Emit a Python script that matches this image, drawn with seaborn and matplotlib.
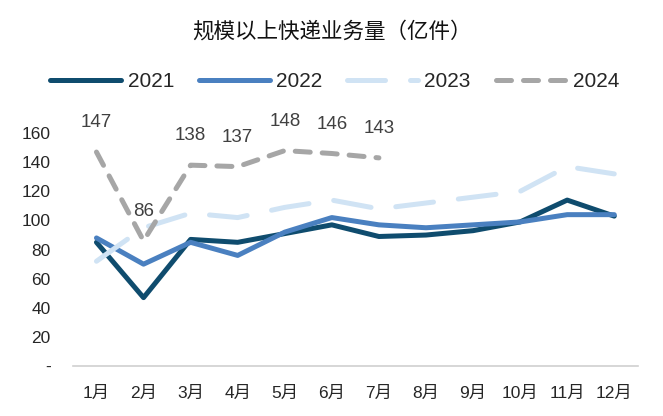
import numpy as np
import pandas as pd
import matplotlib
matplotlib.use("Agg")
import matplotlib.pyplot as plt
import seaborn as sns
from matplotlib.ticker import FixedLocator

months = ["1月", "2月", "3月", "4月", "5月", "6月", "7月", "8月", "9月", "10月", "11月", "12月"]
v2021 = [85, 47, 87, 85, 91, 97, 89, 90, 93, 99, 114, 103]
v2022 = [88, 70, 85, 76, 92, 102, 97, 95, 97, 99, 104, 104]
v2023 = [72, 95, 105, 102, 109, 114, 108, 112, 116, 120, 137, 132]
v2024 = [147, 86, 138, 137, 148, 146, 143]
years = ["2021", "2022", "2023", "2024"]

sns.set_style("white")
plt.rcParams["font.family"] = ["Liberation Sans", "Noto Sans CJK SC", "DejaVu Sans"]

colors = ["#0F4C6E", "#4A80C0", "#D0E3F4", "#A6A6A6"]
dashes = [None, None, (7.6, 5), (3, 2.4)]

fig = plt.figure(figsize=(6.63, 4.16), dpi=100)
ax = fig.add_axes([0.110, 0.120, 0.852, 0.560])

series = [v2021, v2022, v2023, v2024]
for name, vals, col, ds in zip(years, series, colors, dashes):
    df = pd.DataFrame({"x": np.arange(len(vals)), "y": vals})
    sns.lineplot(data=df, x="x", y="y", ax=ax, color=col, linewidth=3.6,
                 label=name, solid_capstyle="round", dash_capstyle="round")
    if ds is not None:
        ax.lines[-1].set_dashes(ds)

# data labels for 2024
for i, v in enumerate(v2024):
    ax.annotate(str(v), (i, v), xytext=(0, 21), textcoords="offset pixels",
                ha="center", va="bottom", fontsize=13.5, color="#404040",
                annotation_clip=False)

ax.set_xlim(-0.5, 11.5)
ax.set_ylim(0, 160)
ax.set_xlabel("")
ax.set_ylabel("")
ax.set_xticks(np.arange(12))
ax.set_xticklabels(months, fontsize=12.5)
ax.set_yticks(np.arange(0, 161, 20))
ax.set_yticklabels(["-"] + [str(t) for t in range(20, 161, 20)], fontsize=12.5)
ax.xaxis.set_minor_locator(FixedLocator(np.arange(-0.5, 12, 1)))
ax.tick_params(axis="x", which="major", length=0, pad=14)
ax.tick_params(axis="x", which="minor", direction="in", length=5, color="#D0D0D0", width=1)
ax.tick_params(axis="y", length=0, pad=16)

for s in ["top", "right", "left"]:
    ax.spines[s].set_visible(False)
ax.spines["bottom"].set_color("#D0D0D0")
ax.spines["bottom"].set_linewidth(1.2)

ax.get_legend().remove()
handles = ax.lines[:4]
fig.legend(handles, years, loc="center", bbox_to_anchor=(0.505, 0.803), ncol=4,
           frameon=False, fontsize=15, handlelength=3.4, handletextpad=0.3,
           columnspacing=1.2)

fig.text(0.5, 0.923, "规模以上快递业务量（亿件）", ha="center", va="center",
         fontsize=15.5, family=["Noto Sans CJK SC"], color="#111111")

fig.savefig("out.png", dpi=100)
